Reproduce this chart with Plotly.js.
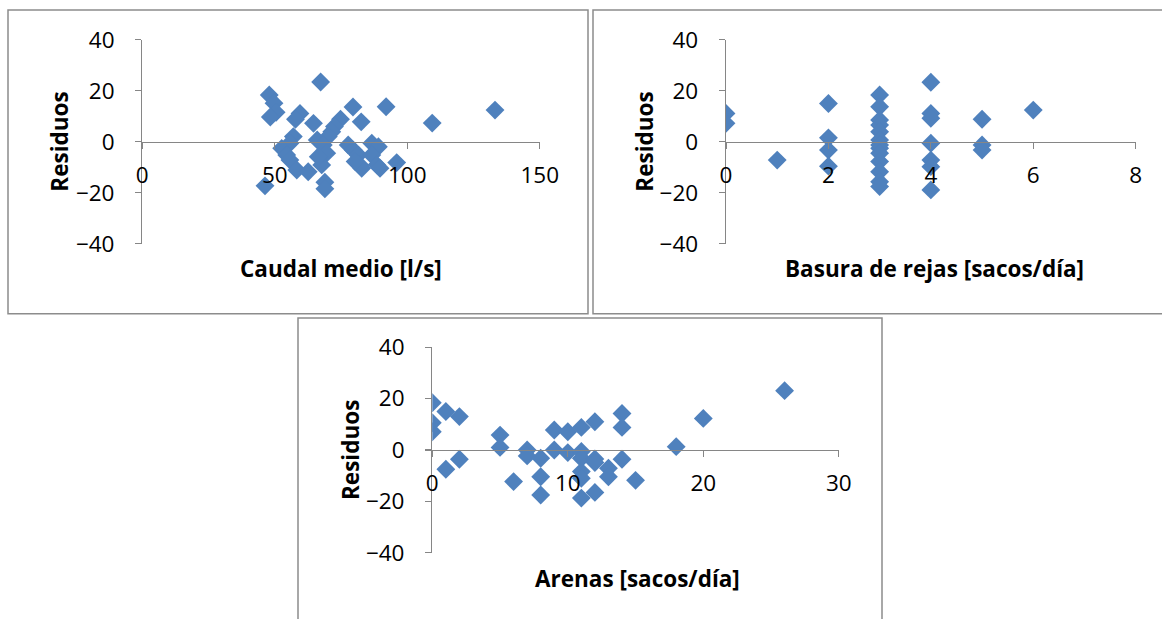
<!DOCTYPE html>
<html>
<head>
<meta charset="utf-8">
<script src="https://cdn.plot.ly/plotly-3.0.1.min.js"></script>
<style>
  html, body { margin: 0; padding: 0; background: #ffffff; }
  #chart { width: 1162px; height: 619px; }
</style>
</head>
<body>
<div id="chart"></div>
<script>
// Residuals of the model against each explanatory variable

// Caudal medio [l/s]
const caudal = [67.3, 47.9, 49.7, 50.5, 48.3, 59.5, 57.8, 64.6, 79.5, 82.6, 92.0, 74.8, 72.5, 71.5, 70.2,
  66.0, 57.0, 55.7, 52.6, 54.5, 55.7, 58.3, 62.6, 68.3, 69.6, 67.7, 68.9, 68.9, 46.3, 77.7,
  79.6, 81.5, 82.1, 82.8, 86.6, 89.1, 86.6, 88.5, 89.7, 96.0, 80.3, 66.4, 109.4, 133.1];
const resCaudal = [23.4, 18.3, 15.1, 11.5, 9.7, 11.1, 8.8, 7.2, 13.6, 7.8, 13.7, 8.8, 6.0, 3.9, 2.0,
  0.7, 2.0, -0.6, -2.6, -5.2, -7.2, -11.1, -11.8, -1.3, -4.5, -9.1, -15.9, -18.5, -17.3, -1.3,
  -3.3, -5.2, -9.1, -10.4, -0.6, -2.0, -5.2, -9.1, -10.4, -8.2, -7.8, -5.9, 7.3, 12.4];

// Basura de rejas [sacos/día]
const basura = [0, 0, 1, 2, 2, 2, 2, 3, 3, 3, 3, 3, 3, 3, 3, 3, 3, 3, 3, 3,
  4, 4, 4, 4, 4, 4, 4, 5, 5, 5, 6];
const resBasura = [11.1, 7.2, -7.2, 15.0, 1.5, -3.3, -9.6, 18.3, 13.7, 8.5, 6.5, 3.9, 0.7, -1.3, -2.6, -4.5, -7.8, -11.8, -15.7, -17.6,
  23.3, 11.1, 9.2, -0.6, -7.2, -9.8, -18.9, 8.8, -1.3, -3.3, 12.4];

// Arenas [sacos/día]
const arenas = [0, 1, 2, 0, 0, 1, 2, 5, 5, 6, 7, 7, 8, 8, 8, 9, 9, 10, 10, 11,
  11, 11, 11, 11, 11, 12, 12, 12, 12, 13, 13, 14, 14, 14, 15, 18, 20, 26];
const resArenas = [18.4, 15.0, 13.0, 10.6, 7.1, -7.5, -3.6, 5.8, 1.0, -12.3, 0.0, -2.3, -3.2, -10.4, -17.5, 7.8, 0.0, 7.1, -1.0, 8.8,
  -0.6, -3.2, -8.4, -11.0, -18.7, 11.0, -3.5, -4.9, -16.5, -7.1, -10.4, 14.2, 8.8, -3.6, -11.8, 1.3, 12.3, 23.1];

const xTitles = ['Caudal medio [l/s]', 'Basura de rejas [sacos/día]', 'Arenas [sacos/día]'];
const yTitle = 'Residuos';

// page geometry in pixels, converted to paper fractions
const W = 1162, H = 619;
const px = v => v / W;
const py = v => 1 - v / H;

const FONT = '"Open Sans", Lato, sans-serif';
const AX = '#868686';
const BLUE = '#4f81bd';
const TICK_SIZE = 22.5;
const TITLE_SIZE = 22.5;

const panels = [
  { x: caudal, y: resCaudal, left: 142.3, right: 539.8, top: 39.7, bottom: 243.7, xmax: 150, dtick: 50,
    titleX: 341, titleY: 268, yTitleX: 60, box: [8, 10, 588, 313.7] },
  { x: basura, y: resBasura, left: 726, right: 1135.7, top: 39.7, bottom: 243.7, xmax: 8, dtick: 2,
    titleX: 934, titleY: 268, yTitleX: 645, box: [593, 10, 1175, 313.7] },
  { x: arenas, y: resArenas, left: 432.3, right: 838.8, top: 347.2, bottom: 552.8, xmax: 30, dtick: 10,
    titleX: 637, titleY: 578, yTitleX: 350, box: [298, 318, 882, 640] }
];

const data = [];
const layout = {
  width: W, height: H,
  margin: { l: 0, r: 0, t: 0, b: 0, pad: 0 },
  paper_bgcolor: '#ffffff', plot_bgcolor: 'rgba(0,0,0,0)',
  showlegend: false,
  font: { family: FONT, size: TICK_SIZE, color: '#000000' },
  shapes: [], annotations: []
};

panels.forEach((p, i) => {
  const n = i === 0 ? '' : String(i + 1);
  const yd = [py(p.bottom), py(p.top)];
  data.push({
    type: 'scatter', mode: 'markers', x: p.x, y: p.y,
    xaxis: 'x' + n, yaxis: 'y' + n,
    marker: { symbol: 'diamond', size: 14.5, color: BLUE, line: { width: 0 } },
    hoverinfo: 'x+y'
  });
  layout['xaxis' + n] = {
    domain: [px(p.left), px(p.right)], range: [0, p.xmax], tick0: 0, dtick: p.dtick,
    anchor: 'free', position: (yd[0] + yd[1]) / 2,
    showline: true, linecolor: AX, linewidth: 1.3, ticks: 'outside', ticklen: 6, tickcolor: AX, tickwidth: 1.3,
    showgrid: false, zeroline: false, ticklabelstandoff: 7,
    tickfont: { family: FONT, size: TICK_SIZE, color: '#000' }
  };
  layout['yaxis' + n] = {
    domain: yd, range: [-40, 40], tick0: 0, dtick: 20, anchor: 'x' + n,
    showline: true, linecolor: AX, linewidth: 1.3, ticks: 'outside', ticklen: 6, tickcolor: AX, tickwidth: 1.3,
    showgrid: false, zeroline: false, ticklabelstandoff: 16,
    tickfont: { family: FONT, size: TICK_SIZE, color: '#000' }
  };
  layout.shapes.push({
    type: 'rect', xref: 'paper', yref: 'paper',
    x0: px(p.box[0]), x1: px(p.box[2]), y0: py(p.box[1]), y1: py(p.box[3]),
    line: { color: '#8c8c8c', width: 1.5 }, fillcolor: 'rgba(0,0,0,0)', layer: 'below'
  });
  layout.annotations.push({
    xref: 'paper', yref: 'paper', x: px(p.titleX), y: py(p.titleY),
    text: '<b>' + xTitles[i] + '</b>', showarrow: false, xanchor: 'center', yanchor: 'middle',
    font: { family: FONT, size: TITLE_SIZE, color: '#000' }
  });
  layout.annotations.push({
    xref: 'paper', yref: 'paper', x: px(p.yTitleX), y: py((p.top + p.bottom) / 2),
    text: '<b>' + yTitle + '</b>', textangle: -90, showarrow: false, xanchor: 'center', yanchor: 'middle',
    font: { family: FONT, size: TITLE_SIZE, color: '#000' }
  });
});

Plotly.newPlot('chart', data, layout, { displayModeBar: false, staticPlot: true });
</script>
</body>
</html>
